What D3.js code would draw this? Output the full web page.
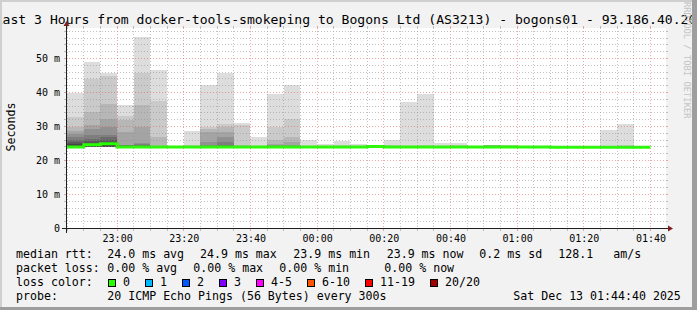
<!DOCTYPE html>
<html>
<head>
<meta charset="utf-8">
<script src="https://cdn.jsdelivr.net/npm/d3@7"></script>
<style>
  body { margin: 0; background: #f2f2f2; }
  svg text { font-family: "DejaVu Sans Mono", monospace; fill: #000; }
</style>
</head>
<body>
<div id="chart"></div>
<script>
// ---------------- data ----------------
const titleText = "Last 3 Hours from docker-tools-smokeping to Bogons Ltd (AS3213) - bogons01 - 93.186.40.20";

// 5 minute steps, start of each step
const slotStarts = ["22:45","22:50","22:55","23:00","23:05","23:10","23:15","23:20","23:25","23:30",
                    "23:35","23:40","23:45","23:50","23:55","00:00","00:05","00:10","00:15","00:20",
                    "00:25","00:30","00:35","00:40","00:45","00:50","00:55","01:00","01:05","01:10",
                    "01:15","01:20","01:25","01:30","01:35"];

// median rtt per step (ms)
const medians = [24.0,24.6,24.9,24.0,24.0,24.0,24.0,24.0,24.0,24.0,
                 24.0,24.0,24.0,24.0,24.0,24.0,24.0,24.0,24.1,24.0,
                 24.0,24.0,24.0,24.0,24.0,24.0,24.0,24.0,24.0,23.9,
                 23.9,23.9,23.9,23.9,23.9];

// 20 sorted ping times per step (ms) -> smoke
const pings = [
  [23.9,23.9,23.9,24.0,24.0,24.0,24.0,24.0,24.0,24.0,24.3,24.8,25.4,26.1,26.9,27.8,28.8,30.0,32.7,39.8],
  [23.9,23.9,23.9,23.9,23.9,23.9,23.9,23.9,23.9,24.3,24.7,25.0,25.6,26.4,27.4,29.3,30.3,34.2,44.0,48.9],
  [23.9,23.9,23.9,23.9,23.9,23.9,23.9,23.9,23.9,24.6,25.0,25.3,25.9,26.9,27.4,29.8,32.1,36.7,45.0,45.8],
  [23.9,23.9,23.9,24.0,24.0,24.0,24.0,24.0,24.0,24.0,24.2,24.3,24.4,24.5,24.5,24.6,28.5,31.8,33.2,36.2],
  [23.9,23.9,24.0,24.0,24.0,24.0,24.0,24.0,24.0,24.0,24.2,24.3,24.4,24.5,24.9,25.2,29.8,36.2,45.8,56.3],
  [23.9,23.9,24.0,24.0,24.0,24.0,24.0,24.0,24.0,24.0,24.1,24.1,24.2,24.2,24.3,24.3,24.4,27.0,37.4,46.5],
  [23.9,23.9,23.9,23.9,24.0,24.0,24.0,24.0,24.0,24.0,24.0,24.0,24.0,24.1,24.1,24.1,24.2,24.2,24.3,24.4],
  [23.9,23.9,23.9,24.0,24.0,24.0,24.0,24.0,24.0,24.0,24.0,24.1,24.1,24.1,24.2,24.2,24.3,24.4,24.6,28.6],
  [23.9,23.9,23.9,24.0,24.0,24.0,24.0,24.0,24.0,24.0,24.2,24.2,24.3,24.4,24.6,25.4,28.5,29.3,29.8,42.1],
  [23.9,23.9,23.9,24.0,24.0,24.0,24.0,24.0,24.0,24.0,24.2,24.3,24.4,24.6,25.4,27.0,28.5,30.0,30.6,45.8],
  [23.9,23.9,23.9,24.0,24.0,24.0,24.0,24.0,24.0,24.0,24.1,24.1,24.2,24.2,24.3,24.3,24.4,24.5,30.5,31.0],
  [23.9,23.9,23.9,24.0,24.0,24.0,24.0,24.0,24.0,24.0,24.0,24.1,24.1,24.1,24.2,24.2,24.3,24.3,24.4,26.9],
  [23.9,23.9,23.9,24.0,24.0,24.0,24.0,24.0,24.0,24.0,24.1,24.2,24.2,24.3,24.3,24.5,24.9,25.9,30.0,39.6],
  [23.9,23.9,23.9,24.0,24.0,24.0,24.0,24.0,24.0,24.0,24.1,24.2,24.2,24.3,24.3,24.5,25.4,26.9,32.3,42.1],
  [23.9,23.9,23.9,23.9,24.0,24.0,24.0,24.0,24.0,24.0,24.0,24.1,24.1,24.1,24.2,24.2,24.2,24.3,24.3,25.9],
  [23.9,23.9,23.9,23.9,24.0,24.0,24.0,24.0,24.0,24.0,24.0,24.0,24.1,24.1,24.1,24.2,24.2,24.3,24.4,24.9],
  [23.9,23.9,23.9,23.9,24.0,24.0,24.0,24.0,24.0,24.0,24.0,24.1,24.1,24.1,24.2,24.2,24.3,24.4,24.5,25.7],
  [23.9,23.9,23.9,23.9,24.0,24.0,24.0,24.0,24.0,24.0,24.0,24.0,24.1,24.1,24.1,24.2,24.2,24.3,24.4,24.9],
  [23.9,23.9,23.9,23.9,24.0,24.0,24.0,24.0,24.0,24.0,24.1,24.1,24.1,24.2,24.2,24.2,24.3,24.3,24.4,24.6],
  [23.9,23.9,23.9,23.9,24.0,24.0,24.0,24.0,24.0,24.0,24.0,24.1,24.1,24.1,24.2,24.2,24.3,24.4,24.5,25.9],
  [23.9,23.9,23.9,23.9,24.0,24.0,24.0,24.0,24.0,24.0,24.0,24.0,24.1,24.1,24.1,24.2,24.2,24.3,24.4,37.2],
  [23.9,23.9,23.9,23.9,24.0,24.0,24.0,24.0,24.0,24.0,24.0,24.1,24.1,24.1,24.2,24.2,24.3,24.4,24.5,39.6],
  [23.9,23.9,23.9,23.9,24.0,24.0,24.0,24.0,24.0,24.0,24.0,24.0,24.1,24.1,24.1,24.2,24.2,24.3,24.4,25.1],
  [23.9,23.9,23.9,23.9,24.0,24.0,24.0,24.0,24.0,24.0,24.0,24.0,24.1,24.1,24.1,24.2,24.2,24.3,24.5,25.1],
  [23.9,23.9,23.9,23.9,24.0,24.0,24.0,24.0,24.0,24.0,24.0,24.0,24.0,24.1,24.1,24.1,24.2,24.2,24.3,24.4],
  [23.9,23.9,23.9,23.9,24.0,24.0,24.0,24.0,24.0,24.0,24.1,24.1,24.2,24.2,24.3,24.4,24.5,24.6,24.6,24.7],
  [23.9,23.9,23.9,23.9,24.0,24.0,24.0,24.0,24.0,24.0,24.0,24.0,24.1,24.1,24.1,24.2,24.3,24.4,24.5,24.7],
  [23.9,23.9,23.9,23.9,24.0,24.0,24.0,24.0,24.0,24.0,24.0,24.0,24.0,24.1,24.1,24.1,24.2,24.2,24.3,24.4],
  [23.9,23.9,23.9,23.9,24.0,24.0,24.0,24.0,24.0,24.0,24.0,24.0,24.0,24.1,24.1,24.1,24.2,24.2,24.3,24.4],
  [23.9,23.9,23.9,23.9,23.9,23.9,24.0,24.0,24.0,24.0,24.0,24.0,24.0,24.0,24.1,24.1,24.1,24.2,24.2,24.3],
  [23.9,23.9,23.9,23.9,23.9,23.9,24.0,24.0,24.0,24.0,24.0,24.0,24.0,24.0,24.1,24.1,24.1,24.2,24.2,24.3],
  [23.9,23.9,23.9,23.9,23.9,23.9,24.0,24.0,24.0,24.0,24.0,24.0,24.0,24.0,24.1,24.1,24.1,24.2,24.2,24.3],
  [23.9,23.9,23.9,23.9,23.9,23.9,24.0,24.0,24.0,24.0,24.0,24.0,24.1,24.1,24.1,24.2,24.2,24.3,24.4,29.1],
  [23.9,23.9,23.9,23.9,23.9,23.9,24.0,24.0,24.0,24.0,24.0,24.1,24.1,24.1,24.2,24.2,24.3,24.4,24.5,30.8],
  [23.9,23.9,23.9,23.9,23.9,23.9,23.9,23.9,23.9,23.9,24.0,24.0,24.0,24.0,24.0,24.1,24.1,24.1,24.1,24.2]
];

const yTickValues = [0, 10, 20, 30, 40, 50];

const rttStats = ["24.0 ms avg", "24.9 ms max", "23.9 ms min", "23.9 ms now", "0.2 ms sd", "128.1", "am/s"];
const lossStats = ["0.00 % avg", "0.00 % max", "0.00 % min", "0.00 % now"];
const lossLabels = ["0", "1", "2", "3", "4-5", "6-10", "11-19", "20/20"];
const lossColors = ["#26ff00", "#00b8ff", "#0059ff", "#7e00ff", "#ff00ff", "#ff5500", "#ff0000", "#a10000"];
const probeText = "20 ICMP Echo Pings (56 Bytes) every 300s";
const stampText = "Sat Dec 13 01:44:40 2025";

// ---------------- layout ----------------
const W = 697, H = 310;
const X0 = 66, X1 = 666;        // canvas left / right
const Y0 = 228.5, Y1 = 27.9;    // canvas bottom / top

const svg = d3.select("#chart").append("svg")
    .attr("width", W).attr("height", H);

svg.append("rect").attr("width", W).attr("height", H).attr("fill", "#f2f2f2");
svg.append("rect").attr("x", X0).attr("y", 28).attr("width", X1 - X0).attr("height", 201).attr("fill", "#fff");

const parseSlot = s => {
    let [h, m] = s.split(":").map(Number);
    return new Date(Date.UTC(2025, 11, h >= 12 ? 12 : 13, h, m));
};
const starts = slotStarts.map(parseSlot);
const step = 5 * 60 * 1000;

let x = d3.scaleUtc()
    .domain([new Date(Date.UTC(2025, 11, 12, 22, 44, 40)), new Date(Date.UTC(2025, 11, 13, 1, 44, 40))])
    .range([X0, X1]);
let y = d3.scaleLinear().domain([0, 59]).range([Y0, Y1]);

// smoke: layer i spans pings[i] .. pings[19-i], darker towards the middle
let smoke = svg.append("g").attr("shape-rendering", "crispEdges");
pings.forEach((p, s) => {
    let x0 = x(starts[s]), x1 = x(new Date(+starts[s] + step));
    for (let i = 0; i < 10; i++) {
        let lo = p[i], hi = p[19 - i];
        if (hi <= lo) continue;
        let c = Math.floor(190 / 10 * (10 - (i + 1))) + 50;
        smoke.append("rect")
            .attr("x", x0).attr("width", x1 - x0)
            .attr("y", y(hi)).attr("height", y(lo) - y(hi))
            .attr("fill", d3.rgb(c, c, c));
    }
});

// median line (0 loss everywhere -> green)
let medPts = starts.map((d, i) => [x(d), y(medians[i])]);
medPts.push([x(new Date(+starts[starts.length - 1] + step)), y(medians[medians.length - 1])]);
svg.append("path")
    .attr("d", d3.line().curve(d3.curveStepAfter)(medPts))
    .attr("fill", "none").attr("stroke", lossColors[0]).attr("stroke-width", 3);

// grid
const gridCol = "#8f8f8f", mgridCol = "#de4f4f";
let grid = svg.append("g").attr("shape-rendering", "crispEdges");
function vline(t, col, op) {
    let xp = Math.floor(x(t)) + 0.5;
    grid.append("line").attr("x1", xp).attr("x2", xp).attr("y1", Y1).attr("y2", Y0)
        .attr("stroke", col).attr("stroke-opacity", op).attr("stroke-dasharray", "1,2");
    grid.append("line").attr("x1", xp).attr("x2", xp).attr("y1", Y1 - 2).attr("y2", Y1)
        .attr("stroke", col).attr("stroke-opacity", op);
    grid.append("line").attr("x1", xp).attr("x2", xp).attr("y1", Y0).attr("y2", Y0 + 2)
        .attr("stroke", col).attr("stroke-opacity", op);
}
function hline(v, col, op) {
    let yp = Math.floor(y(v)) + 0.5;
    grid.append("line").attr("x1", X0).attr("x2", X1).attr("y1", yp).attr("y2", yp)
        .attr("stroke", col).attr("stroke-opacity", op).attr("stroke-dasharray", "1,2");
    grid.append("line").attr("x1", X0 - 2).attr("x2", X0).attr("y1", yp).attr("y2", yp)
        .attr("stroke", col).attr("stroke-opacity", op);
    grid.append("line").attr("x1", X1).attr("x2", X1 + 2).attr("y1", yp).attr("y2", yp)
        .attr("stroke", col).attr("stroke-opacity", op);
}
let majorT = x.ticks(d3.utcMinute.every(20));
let minorT = x.ticks(d3.utcMinute.every(5)).filter(t => t.getUTCMinutes() % 20 != 0);
minorT.forEach(t => vline(t, gridCol, 0.55));
y.ticks(30).filter(v => v % 10 != 0).forEach(v => hline(v, gridCol, 0.55));
majorT.forEach(t => vline(t, mgridCol, 0.5));
yTickValues.filter(v => v > 0).forEach(v => hline(v, mgridCol, 0.5));

// axes
svg.append("line").attr("x1", X0 - 4).attr("x2", X1 + 4).attr("y1", Y0).attr("y2", Y0)
    .attr("stroke", "#1f1f1f").attr("shape-rendering", "crispEdges");
svg.append("line").attr("x1", X0 + 0.5).attr("x2", X0 + 0.5).attr("y1", Y0 + 4).attr("y2", Y1 - 4)
    .attr("stroke", "#1f1f1f").attr("shape-rendering", "crispEdges");
svg.append("polygon")
    .attr("points", [[X1 + 2, Y0 - 3], [X1 + 2, Y0 + 3], [X1 + 7, Y0]].join(" "))
    .attr("fill", "#801f1f");
svg.append("polygon")
    .attr("points", [[X0 - 2.5, Y1 - 2], [X0 + 3.5, Y1 - 2], [X0 + 0.5, Y1 - 7]].join(" "))
    .attr("fill", "#801f1f");

let xAxis = svg.append("g").attr("transform", `translate(0,${Y0})`)
    .call(d3.axisBottom(x).tickValues(majorT).tickSize(0).tickFormat(d3.utcFormat("%H:%M")));
xAxis.select(".domain").remove();
xAxis.selectAll("line").remove();
xAxis.selectAll("text").attr("y", 13).attr("dy", null)
    .attr("font-size", "10px").attr("font-family", "DejaVu Sans Mono");

let yAxis = svg.append("g").attr("transform", `translate(${X0},0)`)
    .call(d3.axisLeft(y).tickValues(yTickValues).tickSize(0).tickFormat(d => d ? d + " m" : "0"));
yAxis.select(".domain").remove();
yAxis.selectAll("line").remove();
yAxis.selectAll("text").attr("x", -6).attr("dy", "0.34em")
    .attr("font-size", "10px").attr("font-family", "DejaVu Sans Mono");

svg.append("text")
    .attr("transform", "translate(14.5,127) rotate(-90)")
    .attr("text-anchor", "middle").attr("font-size", "11.6px")
    .text("Seconds");

// title
svg.append("text")
    .attr("x", 345.5).attr("y", 24).attr("text-anchor", "middle")
    .attr("font-size", "13.1px")
    .text(titleText);

// watermark
svg.append("text")
    .attr("transform", "translate(684,2) rotate(90)")
    .attr("font-size", "8.8px").style("fill", "#c4c4c4")
    .text("RRDTOOL / TOBI OETIKER");

// legend
const lf = "11.6px";
function legendText(tx, ty, s) {
    svg.append("text").attr("x", tx).attr("y", ty).attr("font-size", lf)
        .attr("xml:space", "preserve").text(s);
}
legendText(16, 258, "median rtt:");
[107.3, 200, 293.3, 386.7, 479.3, 558.3, 613.3].forEach((px, i) => legendText(px, 258, rttStats[i]));
legendText(16, 272, "packet loss:");
[107.3, 193.3, 279.3, 384.3].forEach((px, i) => legendText(px, 272, lossStats[i]));
legendText(16, 286, "loss color:");
let sx = 108;
lossLabels.forEach((lab, i) => {
    svg.append("rect").attr("x", sx + 0.5).attr("y", 279.5).attr("width", 7).attr("height", 7)
        .attr("fill", lossColors[i]).attr("stroke", "#000").attr("shape-rendering", "crispEdges");
    legendText(sx + 15, 286, lab);
    sx += 30 + 7 * lab.length;
});
legendText(16, 300, "probe:");
legendText(107.3, 300, probeText);
legendText(513.3, 300, stampText);

// 3d frame
svg.append("rect").attr("x", 0).attr("y", 0).attr("width", W).attr("height", 2).attr("fill", "#cfcfcf");
svg.append("rect").attr("x", 0).attr("y", 0).attr("width", 2).attr("height", H).attr("fill", "#cfcfcf");
svg.append("rect").attr("x", 692).attr("y", 0).attr("width", 5).attr("height", H).attr("fill", "#9e9e9e");
svg.append("rect").attr("x", 0).attr("y", 307).attr("width", W).attr("height", 3).attr("fill", "#9e9e9e");
</script>
</body>
</html>
